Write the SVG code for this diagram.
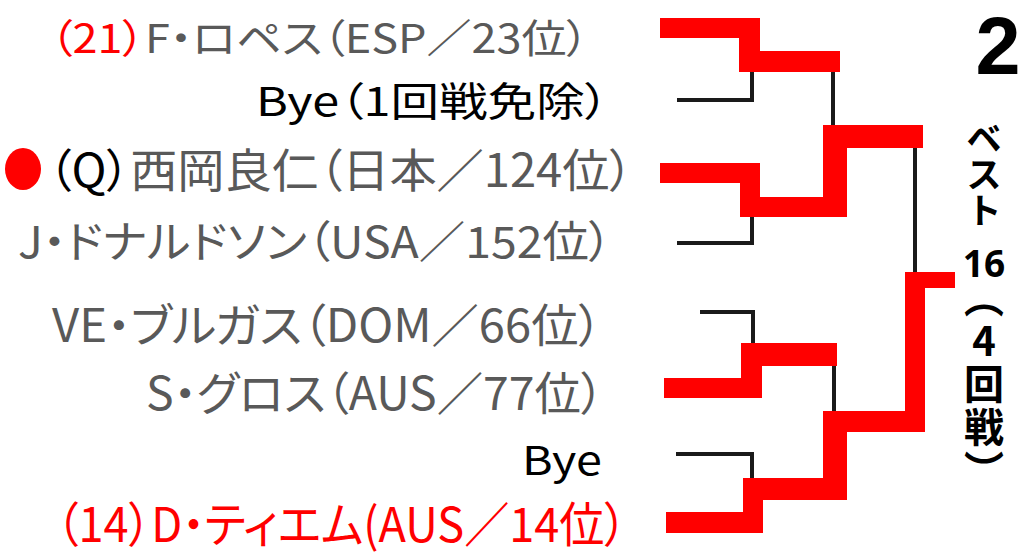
<svg xmlns="http://www.w3.org/2000/svg" width="1024" height="560" viewBox="0 0 1024 560">
<style>
.t{font-family:"Noto Sans CJK JP","Liberation Sans",sans-serif;font-feature-settings:"palt" 1;}
.g{fill:#595959;}
.k{fill:#000000;}
.r{fill:#ff0000;}
.rb{fill:#ff0000;}
.bl{fill:none;stroke:#1a1a1a;stroke-width:4;}
.v{font-family:"Noto Sans CJK JP",sans-serif;font-weight:bold;fill:#000;writing-mode:vertical-rl;text-orientation:upright;}
.b{font-family:"Noto Sans","Noto Sans CJK JP",sans-serif;font-weight:bold;fill:#000;}
.n{font-family:"Liberation Sans",Arial,sans-serif;font-weight:bold;fill:#000;}
</style>
<rect width="1024" height="560" fill="#ffffff"/>

<g id="player1"><text class="t" x="50" y="53" font-size="40" textLength="539" lengthAdjust="spacingAndGlyphs"><tspan class="r">（21）</tspan><tspan class="g">F・ロペス（ESP／23位）</tspan></text></g>
<g id="player2"><text class="t k" x="256" y="116" font-size="40" textLength="353" lengthAdjust="spacingAndGlyphs">Bye（1回戦免除）</text></g>
<g id="player3"><ellipse class="r" cx="23" cy="169" rx="18" ry="21"/><text class="t" x="48" y="187" font-size="46" textLength="585" lengthAdjust="spacingAndGlyphs"><tspan class="k">（Q）</tspan><tspan class="g">西岡良仁（日本／124位）</tspan></text></g>
<g id="player4"><text class="t g" x="18" y="258" font-size="44" textLength="594" lengthAdjust="spacingAndGlyphs">J・ドナルドソン（USA／152位）</text></g>
<g id="player5"><text class="t g" x="52" y="342" font-size="46" textLength="550" lengthAdjust="spacingAndGlyphs">VE・ブルガス（DOM／66位）</text></g>
<g id="player6"><text class="t g" x="146" y="410" font-size="46" textLength="458" lengthAdjust="spacingAndGlyphs">S・グロス（AUS／77位）</text></g>
<g id="player7"><text class="t k" x="522" y="475" font-size="40" textLength="80" lengthAdjust="spacingAndGlyphs">Bye</text></g>
<g id="player8"><text class="t r" x="56" y="542" font-size="48" textLength="571" lengthAdjust="spacingAndGlyphs">（14）D・ティエム(AUS／14位）</text></g>

<g id="connectors">
  <polyline class="bl" points="677,100 752,100 752,72"/>
  <line class="bl" x1="833" y1="70" x2="833" y2="127"/>
  <polyline class="bl" points="677,243 752,243 752,217"/>
  <line class="bl" x1="915" y1="146" x2="915" y2="274"/>
  <polyline class="bl" points="700,312 753,312 753,343"/>
  <line class="bl" x1="834" y1="364" x2="834" y2="413"/>
  <polyline class="bl" points="676,454 752,454 752,478"/>

  <path class="rb" d="M660,18H760V51H840V72H739V38H660Z"/>
  <path class="rb" d="M660,163H760V197H823V125H923V148H847V217H740V183H660Z"/>
  <path class="rb" d="M741,343H837V366H762V398H664V378H741Z"/>
  <path class="rb" d="M905,272H955V288H925V432H847V500H763V533H666V512H743V478H823V411H905Z"/>
</g>

<g id="title">
  <text class="n" x="998" y="74" font-size="81" text-anchor="middle">2</text>
  <text class="v" x="984" y="120" font-size="36">ベスト</text>
  <text class="b" x="984" y="277" font-size="37" text-anchor="middle">16</text>
  <text class="v" x="984" y="278" font-size="40" letter-spacing="3">（4回戦）</text>
</g>
</svg>
